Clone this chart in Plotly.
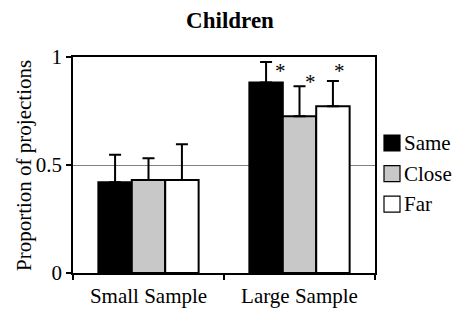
import plotly.graph_objects as go

categories = ["Small Sample", "Large Sample"]
series_names = ["Same", "Close", "Far"]
values = {
    "Same": [0.42, 0.882],
    "Close": [0.431, 0.726],
    "Far": [0.431, 0.772],
}
errors = {
    "Same": [0.128, 0.095],
    "Close": [0.10, 0.139],
    "Far": [0.165, 0.117],
}
colors = {"Same": "#000000", "Close": "#c8c8c8", "Far": "#ffffff"}
y_title = "Proportion of projections"
# significance markers on the Large Sample bars (pixel offsets relative to the error top)
star_series = ["Same", "Close", "Far"]
star_xshift = [-19, 11, 40]
star_yshift = [-9, 4, 10]

FONT = "Liberation Serif"
W, H = 455, 309
ML, MR, MT, MB = 73, 80, 57, 36
PW, PH = W - ML - MR, H - MT - MB


def px_to_paper(px, py):
    return (px - ML) / PW, (H - MB - py) / PH


fig = go.Figure()
for name in series_names:
    fig.add_trace(go.Bar(
        x=categories, y=values[name], name=name,
        marker=dict(color=colors[name], line=dict(color="black", width=2)),
        error_y=dict(type="data", array=errors[name], arrayminus=[0, 0],
                     symmetric=False, color="black", thickness=2, width=6),
        showlegend=False,
    ))

for name, dx, dy in zip(star_series, star_xshift, star_yshift):
    top = values[name][1] + errors[name][1]
    fig.add_annotation(x="Large Sample", y=top, text="*", showarrow=False,
                       xshift=dx, yshift=dy, yanchor="middle",
                       font=dict(family=FONT, size=21, color="black"))

# legend (drawn manually so the swatch/label spacing matches)
LEG_X, LEG_Y0, LEG_STEP, SW = 384, 143, 30.6, 16
for i, name in enumerate(series_names):
    cy = LEG_Y0 + i * LEG_STEP
    x0, y0 = px_to_paper(LEG_X, cy + SW / 2)
    x1, y1 = px_to_paper(LEG_X + SW, cy - SW / 2)
    fig.add_shape(type="rect", xref="paper", yref="paper", x0=x0, x1=x1, y0=y0, y1=y1,
                  fillcolor=colors[name], line=dict(color="black", width=1.2))
    tx, ty = px_to_paper(LEG_X + SW + 2, cy)
    fig.add_annotation(xref="paper", yref="paper", x=tx, y=ty, text=name, showarrow=False,
                       xanchor="left", yanchor="middle",
                       font=dict(family=FONT, size=21, color="black"))

# y-axis title placed close to the tick labels
tx, ty = px_to_paper(24, 166)
fig.add_annotation(xref="paper", yref="paper", x=tx, y=ty, text=y_title, showarrow=False,
                   textangle=-90, xanchor="center", yanchor="middle",
                   font=dict(family=FONT, size=21, color="black"))

fig.update_layout(
    width=W, height=H,
    margin=dict(l=ML, r=MR, t=MT, b=MB, autoexpand=False),
    paper_bgcolor="white", plot_bgcolor="white",
    barmode="group", bargap=0.336, bargroupgap=0,
    font=dict(family=FONT, size=21, color="black"),
    title=dict(text="<b>Children</b>", x=0.5055, xanchor="center", y=0.935, yanchor="middle",
               font=dict(family=FONT, size=23, color="black")),
    showlegend=False,
)
fig.update_xaxes(
    showline=True, linecolor="black", linewidth=1.5, mirror=True,
    ticks="outside", tickson="boundaries", ticklen=5, tickcolor="black", tickwidth=1.5,
    ticklabelstandoff=3,
    showgrid=False, tickfont=dict(family=FONT, size=21, color="black"),
)
fig.update_yaxes(
    range=[0, 1], tickvals=[0, 0.5, 1], ticktext=["0", "0.5", "1"],
    showline=True, linecolor="black", linewidth=1.5, mirror=True,
    ticks="outside", ticklen=5, tickcolor="black", tickwidth=1.5,
    showgrid=True, gridcolor="#808080", gridwidth=1,
    zeroline=False,
    tickfont=dict(family=FONT, size=21, color="black"),
)

# remove the default page margin so the 455x309 figure fills the window exactly
fig.write_html("out.html", config={"displayModeBar": False},
               post_script="document.body.style.margin='0';document.body.style.overflow='hidden';")
